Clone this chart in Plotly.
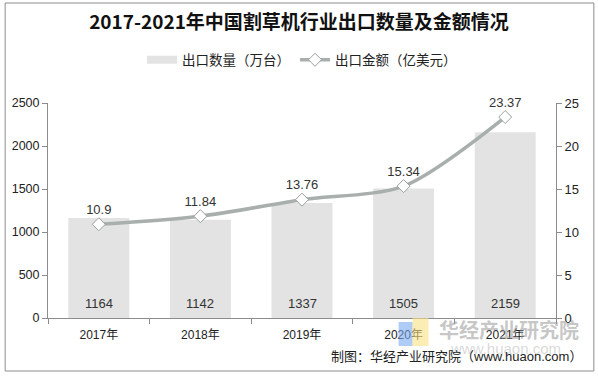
import plotly.graph_objects as go

years = ["2017年", "2018年", "2019年", "2020年", "2021年"]
quantity = [1164, 1142, 1337, 1505, 2159]
amount = [10.9, 11.84, 13.76, 15.34, 23.37]
amount_labels = ["10.9", "11.84", "13.76", "15.34", "23.37"]

W, H = 598, 376
ML, MR, MT, MB = 46, 42, 103, 58
PW, PH = W - ML - MR, H - MT - MB

def px(x):
    return (x - ML) / PW

def py(y):
    return 1 - (y - MT) / PH

FONT = "Liberation Sans, Arial, Noto Sans CJK SC, sans-serif"
BAR_COLOR = "#E2E3E2"

fig = go.Figure()
fig.add_trace(go.Bar(
    x=years, y=quantity, name="出口数量（万台）",
    marker=dict(color=BAR_COLOR, line=dict(width=0)),
    width=0.6, yaxis="y", showlegend=False, legendgroup="q",
))
# legend entry for the bars (wide flat swatch as in the reference)
fig.add_trace(go.Scatter(
    x=[years[0]], y=[None], name="出口数量（万台）", mode="lines", legendgroup="q",
    line=dict(color=BAR_COLOR, width=8), yaxis="y", hoverinfo="skip",
))
fig.add_trace(go.Scatter(
    x=years, y=amount, name="出口金额（亿美元）", yaxis="y2",
    mode="lines+markers+text",
    line=dict(color="#A8AFAC", width=3.5, shape="spline", smoothing=0.8),
    marker=dict(symbol="diamond", size=10, color="white", line=dict(color="#9AA09E", width=1)),
    text=amount_labels, textposition="top center", cliponaxis=False,
    textfont=dict(size=13, color="#333333", family=FONT),
))

for x, q in zip(years, quantity):
    fig.add_annotation(x=x, y=0, xref="x", yref="y", text=str(q), showarrow=False,
                       yshift=15, font=dict(size=13, color="#333333", family=FONT))

# watermark
fig.add_shape(type="rect", xref="paper", yref="paper", x0=px(398), x1=px(412), y0=py(346), y1=py(322),
              fillcolor="rgba(120,170,240,0.6)", line=dict(width=0))
fig.add_shape(type="rect", xref="paper", yref="paper", x0=px(412), x1=px(428), y0=py(346), y1=py(318),
              fillcolor="rgba(250,225,130,0.6)", line=dict(width=0))
fig.add_annotation(xref="paper", yref="paper", x=px(509), y=py(329), xanchor="center", yanchor="middle",
                   text="<b>华经产业研究院</b>",
                   showarrow=False, font=dict(size=20, color="rgba(150,150,150,0.55)", family="Noto Sans CJK SC"))
fig.add_annotation(xref="paper", yref="paper", x=px(505), y=py(348), xanchor="center", yanchor="middle",
                   text="www.huaon.com",
                   showarrow=False, font=dict(size=15, color="rgba(170,170,170,0.45)", family=FONT))

fig.add_annotation(xref="paper", yref="paper", x=px(584), y=py(356), xanchor="right", yanchor="middle",
                   text="制图：华经产业研究院（www.huaon.com）",
                   showarrow=False, font=dict(size=13, color="#222222", family=FONT))

# frame
fig.add_shape(type="rect", xref="paper", yref="paper", x0=px(3), x1=px(594), y0=py(3), y1=py(371),
              line=dict(color="#8C8C8C", width=1), fillcolor="rgba(0,0,0,0)", layer="below")

fig.update_layout(
    width=W, height=H,
    margin=dict(l=ML, r=MR, t=MT, b=MB),
    paper_bgcolor="white", plot_bgcolor="white",
    title=dict(text="<b>2017-2021年中国割草机行业出口数量及金额情况</b>", x=0.5, xanchor="center",
               y=1 - 22 / H, yanchor="middle",
               font=dict(size=19, color="#111111", family="Noto Sans CJK SC")),
    showlegend=True,
    legend=dict(orientation="h", x=0.5, xanchor="center", y=py(60), yanchor="middle",
                font=dict(size=13.5, color="#222222", family="Noto Sans CJK SC"),
                tracegroupgap=0, bgcolor="rgba(0,0,0,0)"),
    xaxis=dict(showline=True, linecolor="#8C8C8C", linewidth=1, ticks="outside", tickcolor="#8C8C8C",
               ticklen=5, tickson="boundaries", showgrid=False, ticklabelstandoff=6,
               tickfont=dict(size=12, color="#222222", family=FONT)),
    yaxis=dict(range=[0, 2500], dtick=500, showline=True, linecolor="#8C8C8C", ticks="outside",
               tickcolor="#8C8C8C", ticklen=5, showgrid=False, zeroline=False,
               tickfont=dict(size=12.5, color="#222222", family=FONT)),
    yaxis2=dict(range=[0, 25], dtick=5, overlaying="y", side="right", showline=True, linecolor="#8C8C8C",
                ticks="outside", tickcolor="#8C8C8C", ticklen=5, showgrid=False, zeroline=False,
                tickfont=dict(size=13, color="#222222", family=FONT)),
    bargap=0.4,
)

fig.write_html("out.html", config={"displayModeBar": False},
               post_script="document.body.style.margin='0px';")
